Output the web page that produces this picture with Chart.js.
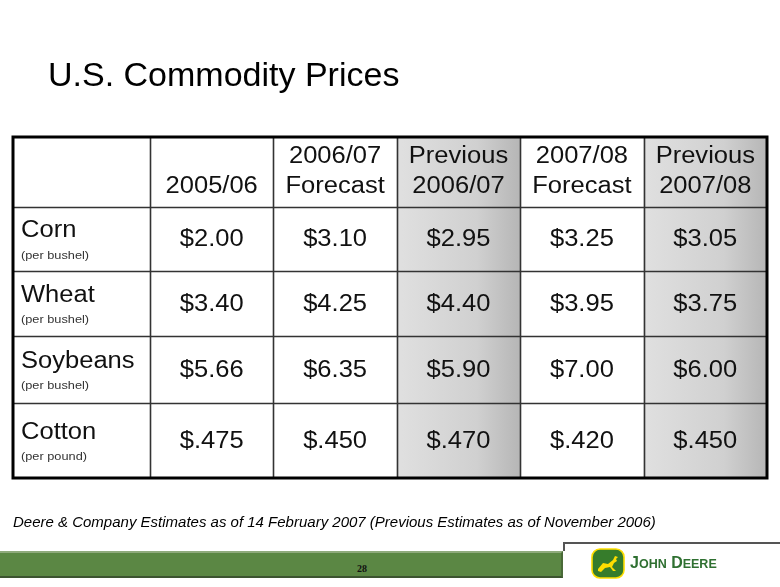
<!DOCTYPE html>
<html>
<head>
<meta charset="utf-8">
<script src="https://cdn.jsdelivr.net/npm/chart.js@4/dist/chart.umd.min.js"></script>
<style>
  html, body { margin: 0; padding: 0; background: #fff; }
  #slide { position: relative; width: 780px; height: 587px; overflow: hidden; font-family: "Liberation Sans", Arial, sans-serif; }
  #slide canvas { position: absolute; left: 0; top: 0; }
  .title { position: absolute; left: 48px; top: 53px; font-size: 34px; line-height: 42px; color: #000; }
  .note { position: absolute; left: 13px; top: 513px; font-size: 15px; line-height: 18px; font-style: italic; color: #000; white-space: nowrap; }
  .bar { position: absolute; left: 0; top: 551px; width: 563px; height: 27px; background: #5b8744;
         border-top: 2px solid #8faa7c; border-bottom: 2px solid #3c5430; box-sizing: border-box; border-right: 2px solid #4a6a38; }
  .rule { position: absolute; left: 563px; top: 542px; width: 217px; height: 9px; border-top: 2px solid #555; border-left: 2px solid #555; box-sizing: border-box; }
  .page { position: absolute; left: 352px; top: 563px; width: 20px; text-align: center; font: bold 10px "Liberation Serif", serif; color: #111; }
  .brand { position: absolute; left: 630px; top: 553px; color: #2f7031; font-weight: bold; font-size: 16px; line-height: 20px; white-space: nowrap; }
  .brand small { font-size: 12.5px; }
  .logo { position: absolute; left: 591px; top: 548px; }
</style>
</head>
<body>
<div id="slide">
  <canvas id="table" width="780" height="587"></canvas>
  <div class="title">U.S. Commodity Prices</div>
  <div class="note">Deere &amp; Company Estimates as of 14 February 2007 (Previous Estimates as of November 2006)</div>
  <div class="bar"></div>
  <div class="rule"></div>
  <div class="page">28</div>
  <svg class="logo" width="34" height="31" viewBox="0 0 34 31">
    <rect x="1" y="1" width="32" height="29" rx="8" fill="#367c2b" stroke="#ffde00" stroke-width="1.6"/>
    <path d="M7 21 L12 15 L17 16 L22 12 L24 8 L27 9 L25 11 L26 13 L23 15 L21 19 L25 23 L22 23 L19 19 L14 20 L10 24 L7 23 Z" fill="#ffde00"/>
  </svg>
  <div class="brand">J<small>OHN</small> D<small>EERE</small></div>
</div>
<script>
// table content
const headerLines = [['2005/06'], ['2006/07', 'Forecast'], ['Previous', '2006/07'], ['2007/08', 'Forecast'], ['Previous', '2007/08']];
const commodities = ['Corn', 'Wheat', 'Soybeans', 'Cotton'];
const units = ['(per bushel)', '(per bushel)', '(per bushel)', '(per pound)'];
const prices0506 = [2.00, 3.40, 5.66, 0.475];
const forecast0607 = [3.10, 4.25, 6.35, 0.450];
const previous0607 = [2.95, 4.40, 5.90, 0.470];
const forecast0708 = [3.25, 3.95, 7.00, 0.420];
const previous0708 = [3.05, 3.75, 6.00, 0.450];
const shadedColumns = [2, 4]; // the "Previous" columns

// layout (row edges in y-scale units, label column width in column units)
const ROW_EDGES = [0, 70, 134, 199, 266, 341];
const LABEL_COL = 1.11;
const STRETCH = 1.11; // slide text is drawn a little wide

const columns = [prices0506, forecast0607, previous0607, forecast0708, previous0708];
const rowCenter = r => (ROW_EDGES[r] + ROW_EDGES[r + 1]) / 2;
const fmt = v => v < 1 ? '$' + v.toFixed(3).slice(1) : '$' + v.toFixed(2);
const FONT = '"Liberation Sans", Arial, sans-serif';

function wideText(ctx, text, x, y, align) {
    ctx.save();
    ctx.translate(x, y);
    ctx.scale(STRETCH, 1);
    ctx.textAlign = align;
    ctx.fillText(text, 0, 0);
    ctx.restore();
}

const datasets = columns.map((vals, c) => ({
    label: headerLines[c].join(' '),
    data: vals.map((v, r) => ({ x: c + 0.5, y: rowCenter(r + 1), v: v })),
    pointRadius: 0
}));

const tablePlugin = {
    id: 'tablePlugin',
    beforeDatasetsDraw(chart) {
        const { ctx, scales: { x, y } } = chart;
        const top = y.getPixelForValue(0), bottom = y.getPixelForValue(ROW_EDGES[ROW_EDGES.length - 1]);
        shadedColumns.forEach(c => {
            const l = x.getPixelForValue(c), r = x.getPixelForValue(c + 1);
            const g = ctx.createLinearGradient(l, 0, r, 0);
            g.addColorStop(0, '#e0e0e0');
            g.addColorStop(0.65, '#d0d0d0');
            g.addColorStop(1, '#b6b6b6');
            ctx.fillStyle = g;
            ctx.fillRect(l, top, r - l, bottom - top);
        });
    },
    afterDatasetsDraw(chart) {
        const { ctx, scales: { x, y } } = chart;
        const left = x.getPixelForValue(-LABEL_COL), right = x.getPixelForValue(5);
        const top = y.getPixelForValue(0), bottom = y.getPixelForValue(ROW_EDGES[ROW_EDGES.length - 1]);

        // inner grid
        ctx.save();
        ctx.strokeStyle = '#333';
        ctx.lineWidth = 1.6;
        for (let c = 0; c < 5; c++) {
            const px = Math.round(x.getPixelForValue(c)) + 0.5;
            ctx.beginPath(); ctx.moveTo(px, top); ctx.lineTo(px, bottom); ctx.stroke();
        }
        for (let r = 1; r < ROW_EDGES.length - 1; r++) {
            const py = Math.round(y.getPixelForValue(ROW_EDGES[r])) + 0.5;
            ctx.beginPath(); ctx.moveTo(left, py); ctx.lineTo(right, py); ctx.stroke();
        }
        // outer border
        ctx.strokeStyle = '#000';
        ctx.lineWidth = 3;
        ctx.strokeRect(left, top, right - left, bottom - top);

        ctx.fillStyle = '#111';
        ctx.textBaseline = 'middle';
        ctx.font = '23px ' + FONT;
        // header
        const hc = y.getPixelForValue(rowCenter(0));
        headerLines.forEach((lines, c) => {
            const cx = x.getPixelForValue(c + 0.5);
            if (lines.length === 1) {
                wideText(ctx, lines[0], cx, hc + 15, 'center');
            } else {
                wideText(ctx, lines[0], cx, hc - 15, 'center');
                wideText(ctx, lines[1], cx, hc + 15, 'center');
            }
        });
        // values
        chart.data.datasets.forEach((ds, c) => {
            chart.getDatasetMeta(c).data.forEach((pt, r) => {
                wideText(ctx, fmt(ds.data[r].v), pt.x, pt.y + 1, 'center');
            });
        });
        // row labels
        commodities.forEach((name, r) => {
            const cy = y.getPixelForValue(rowCenter(r + 1));
            ctx.font = '23px ' + FONT;
            ctx.fillStyle = '#111';
            wideText(ctx, name, left + 8, cy - 8, 'left');
            ctx.font = '11.5px ' + FONT;
            ctx.fillStyle = '#333';
            wideText(ctx, units[r], left + 8, cy + 16.5, 'left');
        });
        ctx.restore();
    }
};

new Chart(document.getElementById('table'), {
    type: 'scatter',
    data: { datasets: datasets },
    options: {
        responsive: false,
        animation: false,
        layout: { padding: { left: 13, right: 13, top: 137, bottom: 109 } },
        plugins: { legend: { display: false }, tooltip: { enabled: false } },
        scales: {
            x: { type: 'linear', display: false, min: -LABEL_COL, max: 5 },
            y: { type: 'linear', display: false, min: 0, max: ROW_EDGES[ROW_EDGES.length - 1], reverse: true }
        }
    },
    plugins: [tablePlugin]
});
</script>
</body>
</html>
